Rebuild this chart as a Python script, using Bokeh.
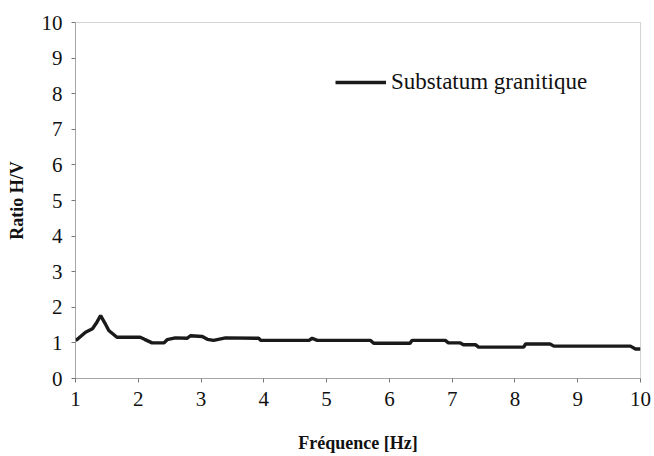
from bokeh.plotting import figure
from bokeh.models import Range1d, FixedTicker, Legend, LegendItem
from bokeh.embed import file_html
from bokeh.resources import INLINE

freq = [1.0, 1.03, 1.16, 1.27, 1.33, 1.40, 1.47, 1.53, 1.66,
        2.03, 2.1, 2.22, 2.41, 2.46, 2.59, 2.78, 2.83,
        3.02, 3.10, 3.20, 3.39, 3.92, 3.95,
        4.72, 4.77, 4.85,
        5.70, 5.75, 6.33, 6.36, 6.89, 6.94,
        7.13, 7.18, 7.37, 7.42,
        8.14, 8.17, 8.56, 8.62,
        9.84, 9.92, 10.0]
ratio = [1.08, 1.10, 1.30, 1.40, 1.55, 1.77, 1.55, 1.35, 1.16,
         1.16, 1.10, 1.00, 1.00, 1.09, 1.14, 1.13, 1.20,
         1.18, 1.10, 1.07, 1.14, 1.13, 1.07,
         1.07, 1.13, 1.07,
         1.07, 0.99, 0.99, 1.07, 1.07, 1.00,
         1.00, 0.95, 0.95, 0.88,
         0.88, 0.97, 0.97, 0.91,
         0.91, 0.83, 0.83]
x_ticks = [1, 2, 3, 4, 5, 6, 7, 8, 9, 10]
y_ticks = [0, 1, 2, 3, 4, 5, 6, 7, 8, 9, 10]
series_name = "Substatum granitique"
x_title = "Fréquence [Hz]"
y_title = "Ratio H/V"

FONT = "Times New Roman"

p = figure(frame_width=565, frame_height=356, output_backend="svg",
           toolbar_location=None, x_range=Range1d(1, 10), y_range=Range1d(0, 10),
           min_border_left=75, min_border_top=22, min_border_right=14,
           min_border_bottom=70)
p.background_fill_color = "white"
p.border_fill_color = "white"
p.outline_line_color = "#aaaaaa"
p.outline_line_dash = "1 1"
p.outline_line_width = 1
p.xgrid.visible = False
p.ygrid.visible = False

r = p.line(freq, ratio, line_color="#1a1a1a", line_width=3.4)

for axes in (p.xaxis, p.yaxis):
    axes.axis_line_color = "#777777"
    axes.axis_line_dash = "1 1"
    axes.major_tick_line_color = "#777777"
    axes.major_tick_out = 4
    axes.major_tick_in = 0
    axes.minor_tick_line_color = None
    axes.major_label_text_font = FONT
    axes.major_label_text_font_style = "normal"
    axes.major_label_text_font_size = "21px"
    axes.major_label_text_color = "#111111"
    axes.axis_label_text_font = FONT
    axes.axis_label_text_font_style = "bold"
    axes.axis_label_text_font_size = "18px"
    axes.axis_label_text_color = "#111111"

p.xaxis.ticker = FixedTicker(ticks=x_ticks)
p.yaxis.ticker = FixedTicker(ticks=y_ticks)
p.xaxis.axis_label = x_title
p.yaxis.axis_label = y_title
p.xaxis.major_label_standoff = 9
p.yaxis.major_label_standoff = 9
p.xaxis.axis_label_standoff = 24
p.yaxis.axis_label_standoff = 12

legend = Legend(items=[LegendItem(label=series_name, renderers=[r])],
                location=(260, 283), padding=0, margin=0, glyph_width=51,
                glyph_height=20, label_height=20, label_standoff=5,
                border_line_alpha=0, background_fill_alpha=0,
                label_text_font=FONT, label_text_font_style="normal",
                label_text_font_size="23px",
                label_text_color="#111111")
p.add_layout(legend)

open("out.html", "w").write(file_html(p, INLINE))
